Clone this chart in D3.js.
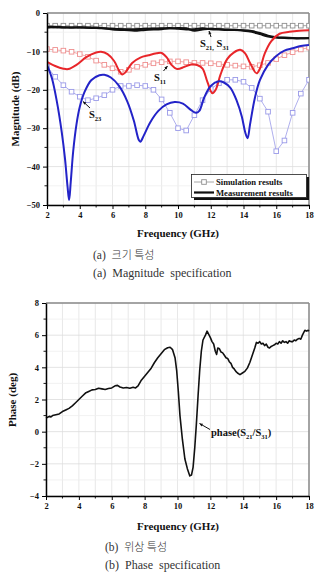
<!DOCTYPE html>
<html><head><meta charset="utf-8">
<script src="https://cdn.jsdelivr.net/npm/d3@7"></script>
<style>
html,body{margin:0;padding:0;background:#fff;}
svg{display:block;}
text{font-family:"Liberation Serif","Times New Roman",serif;}
</style></head>
<body>
<svg id="c" width="315" height="576"></svg>
<script>
// ---------- DATA ----------
const xTicks = [2,4,6,8,10,12,14,16,18];
const magTicks = [-50,-40,-30,-20,-10,0];
const phaseTicks = [-4,-2,0,2,4,6,8];

// Simulation (0.5 GHz steps)
const simFreq = [2,2.5,3,3.5,4,4.5,5,5.5,6,6.5,7,7.5,8,8.5,9,9.5,10,10.5,11,11.5,12,12.5,13,13.5,14,14.5,15,15.5,16,16.5,17,17.5,18];
const simS21 = [-3.3,-3.3,-3.3,-3.3,-3.3,-3.3,-3.3,-3.3,-3.3,-3.3,-3.3,-3.3,-3.3,-3.3,-3.3,-3.3,-3.3,-3.3,-3.3,-3.3,-3.3,-3.3,-3.3,-3.3,-3.3,-3.3,-3.3,-3.3,-3.3,-3.3,-3.3,-3.3,-3.3];
const simS11 = [-9.4,-9.6,-9.8,-10.1,-10.7,-11.4,-12.4,-13.5,-14.4,-15.3,-14.8,-14,-13.5,-13.1,-12.8,-12.6,-12.6,-12.8,-13,-13,-13.1,-13.3,-13.5,-13.7,-13.9,-14,-13.6,-13,-12,-11,-10.2,-9.5,-9];
const simS23 = [-14,-16.6,-18.8,-20.5,-21.8,-22.7,-22.2,-21.4,-20,-19,-19,-18.8,-19,-20,-22.5,-26,-30,-30.6,-26.6,-22.7,-19.8,-18.3,-17.4,-17.4,-17.9,-19.5,-22.3,-25.7,-36,-33.2,-26,-21,-17.4];

// Measurement
const meaS21Freq = [2,2.5,3,4,5,6,7,8,9,9.5,10,10.5,11,11.5,12,12.5,13,14,14.5,15,15.5,16,16.5,17,17.5,18];
const meaS21 = [-3.6,-3.6,-3.7,-3.8,-3.9,-4.1,-4.2,-4.1,-4.0,-3.9,-4.1,-4.3,-4.2,-4.0,-4.2,-4.3,-4.4,-4.5,-4.7,-5.2,-5.9,-6.3,-6.5,-6.6,-6.6,-6.5];
const meaS31Freq = [2,2.5,3,4,5,6,7,7.5,8,9,10,10.5,11,11.5,12,13,14,14.5,15,15.5,16,16.5,17,18];
const meaS31 = [-3.8,-3.7,-3.8,-3.7,-3.8,-4.3,-4.5,-4.6,-4.4,-4.2,-3.9,-4.0,-4.6,-4.3,-4.1,-4.3,-4.6,-4.9,-5.5,-6.1,-6.4,-6.4,-6.5,-6.6];
const meaS11Freq = [2,2.5,3,3.3,3.8,4.4,5,5.3,5.7,6.1,6.4,6.6,6.8,7.2,7.7,8.2,8.7,9,9.3,9.6,9.95,10.4,10.8,11.2,11.5,11.8,12.1,12.3,12.6,13,13.4,13.8,14.1,14.4,14.8,15,15.3,15.7,16.2,16.8,17.4,18];
const meaS11 = [-12.7,-13.8,-14.5,-14.6,-13.5,-11.5,-10.3,-10.1,-10.7,-12.5,-15,-16,-15.4,-13,-11.6,-11,-10.5,-10.4,-11.5,-13.5,-14.6,-14,-13.4,-13.6,-14.5,-18,-20.9,-20,-16,-12,-10.3,-9.6,-10.5,-13,-15.7,-14.5,-10.5,-7.3,-5.4,-4.9,-4.6,-4.5];
const meaS23Freq = [2,2.3,2.6,2.9,3.1,3.25,3.35,3.45,3.6,3.8,4,4.3,4.7,5.2,5.5,5.9,6.4,6.9,7.3,7.6,7.7,7.9,8.3,8.8,9.3,9.8,10.3,10.8,11.1,11.3,11.6,12,12.5,12.8,13.2,13.6,13.9,14.1,14.25,14.4,14.7,15,15.5,16,16.5,17,17.5,18];
const meaS23 = [-13.5,-17,-23,-31,-38,-45,-48.7,-44,-36,-29,-24.5,-20.5,-17.5,-16.2,-16.1,-16.8,-19,-23,-28,-33,-33.5,-32,-28.5,-25.5,-23.8,-23.2,-23.6,-25.3,-26,-25.5,-22,-19,-17.8,-18.1,-19.5,-23,-27,-31,-32.6,-29,-22,-17.5,-13.5,-11.2,-9.8,-9.2,-8.6,-8.3];

// Phase measurement
const phaseFreq = [2,2.1,2.2,2.3,2.4,2.6,2.8,3,3.2,3.4,3.6,3.8,4,4.2,4.4,4.6,4.8,5,5.2,5.4,5.6,5.8,6,6.2,6.35,6.5,6.7,6.9,7.1,7.3,7.45,7.6,7.8,8,8.2,8.4,8.6,8.8,9,9.2,9.4,9.55,9.7,9.85,9.95,10.05,10.15,10.3,10.45,10.6,10.75,10.85,10.95,11.05,11.15,11.25,11.35,11.45,11.55,11.7,11.8,11.9,12,12.1,12.2,12.3,12.38,12.45,12.55,12.65,12.75,12.85,12.95,13.05,13.15,13.25,13.35,13.45,13.55,13.65,13.8,13.95,14.1,14.25,14.4,14.55,14.7,14.8,14.9,15,15.1,15.2,15.3,15.4,15.5,15.6,15.7,15.8,15.9,16,16.1,16.2,16.3,16.4,16.5,16.6,16.7,16.8,16.9,17,17.1,17.2,17.3,17.4,17.5,17.6,17.7,17.75,17.85,17.95,18];
const phaseVal = [0.85,0.9,0.95,0.92,1.0,1.05,1.1,1.25,1.35,1.45,1.6,1.8,2.0,2.2,2.4,2.5,2.6,2.62,2.7,2.66,2.62,2.68,2.72,2.85,2.88,2.78,2.72,2.75,2.7,2.76,2.72,2.85,3.2,3.45,3.7,3.95,4.3,4.6,4.85,5.1,5.22,5.25,5.1,4.6,3.8,2.5,1.0,-0.5,-1.7,-2.3,-2.75,-2.7,-2.2,-1.0,0.5,2.2,3.8,5.0,5.7,6.0,6.25,6.05,5.85,5.6,5.45,5.0,4.8,5.2,5.15,4.95,4.9,4.75,4.6,4.55,4.35,4.25,4.0,3.9,3.75,3.65,3.55,3.65,3.75,3.95,4.3,4.75,5.2,5.55,5.5,5.6,5.45,5.5,5.35,5.45,5.25,5.2,5.3,5.35,5.4,5.5,5.45,5.6,5.5,5.65,5.55,5.6,5.5,5.65,5.6,5.6,5.7,5.65,5.75,5.8,5.75,6.0,6.2,6.3,6.25,6.3,6.25];

// ---------- DRAW ----------
const svg = d3.select("#c");
const zip = (xs, ys) => xs.map((f,i)=>[f, ys[i]]);

function panel(g, x, y, yTicksMajor, yMinorStep) {
  const [x0,x1] = x.range(); const [y0,y1] = y.range(); // y0 bottom, y1 top
  const xMinor = d3.range(2, 18.01, 1);
  const yd = y.domain();
  const yMinor = d3.range(yd[0], yd[1]+0.001, yMinorStep);
  // grid
  g.append("g").selectAll("line").data(xMinor).join("line")
    .attr("x1", d=>x(d)).attr("x2", d=>x(d)).attr("y1", y1).attr("y2", y0)
    .attr("stroke", "#e2e2e2").attr("stroke-width", 0.8);
  g.append("g").selectAll("line").data(yMinor).join("line")
    .attr("x1", x0).attr("x2", x1).attr("y1", d=>y(d)).attr("y2", d=>y(d))
    .attr("stroke", d=> yTicksMajor.includes(d) ? "#dcdcdc" : "#efefef").attr("stroke-width", 0.8);
  // frame top/right gray
  g.append("line").attr("x1",x0).attr("x2",x1).attr("y1",y1).attr("y2",y1).attr("stroke","#8a8a8a").attr("stroke-width",1.5);
  g.append("line").attr("x1",x1).attr("x2",x1).attr("y1",y1).attr("y2",y0).attr("stroke","#8a8a8a").attr("stroke-width",1.5);
}

function axes(g, x, y, yTicksMajor, yMinorStep, fmtY) {
  const [x0,x1] = x.range(); const [y0,y1] = y.range();
  const yd = y.domain();
  // x axis
  const xa = d3.axisBottom(x).tickValues(xTicks).tickSize(4).tickSizeOuter(0).tickPadding(3);
  const gx = g.append("g").attr("transform", `translate(0,${y0})`).call(xa);
  gx.select(".domain").attr("stroke","#000").attr("stroke-width",1.5);
  gx.selectAll(".tick line").attr("stroke","#000").attr("stroke-width",1);
  gx.selectAll(".tick text").attr("font-family","Liberation Serif, serif").attr("font-weight","bold").attr("font-size",8.5).attr("fill","#111");
  g.append("g").selectAll("line").data(d3.range(3,18,2)).join("line")
    .attr("x1", d=>x(d)).attr("x2", d=>x(d)).attr("y1", y0).attr("y2", y0+2.5).attr("stroke","#000").attr("stroke-width",0.9);
  // y axis
  const ya = d3.axisLeft(y).tickValues(yTicksMajor).tickSize(4).tickSizeOuter(0).tickPadding(3).tickFormat(fmtY);
  const gy = g.append("g").attr("transform", `translate(${x0},0)`).call(ya);
  gy.select(".domain").attr("stroke","#000").attr("stroke-width",1.5);
  gy.selectAll(".tick line").attr("stroke","#000").attr("stroke-width",1);
  gy.selectAll(".tick text").attr("font-family","Liberation Serif, serif").attr("font-weight","bold").attr("font-size",8.5).attr("fill","#111");
  const yMin = d3.range(yd[0], yd[1]+0.001, yMinorStep).filter(v=>!yTicksMajor.includes(v));
  g.append("g").selectAll("line").data(yMin).join("line")
    .attr("x1", x0-2.5).attr("x2", x0).attr("y1", d=>y(d)).attr("y2", d=>y(d)).attr("stroke","#000").attr("stroke-width",0.9);
}

// ===== TOP: magnitude =====
const xA = d3.scaleLinear().domain([2,18]).range([47,309]);
const yA = d3.scaleLinear().domain([-50,0]).range([205,13]);
const gA = svg.append("g");
panel(gA, xA, yA, magTicks, 5);

const clipA = svg.append("clipPath").attr("id","clipA").append("rect")
  .attr("x",47).attr("y",12).attr("width",262).attr("height",194);
const plotA = gA.append("g").attr("clip-path","url(#clipA)");

const smooth = d3.line().x(d=>xA(d[0])).y(d=>yA(d[1])).curve(d3.curveCatmullRom.alpha(0.5));
const straightA = d3.line().x(d=>xA(d[0])).y(d=>yA(d[1]));

function simSeries(vals, color) {
  const pts = zip(simFreq, vals);
  plotA.append("path").attr("d", straightA(pts)).attr("fill","none").attr("stroke",color).attr("stroke-width",0.8);
  plotA.append("g").selectAll("rect").data(pts).join("rect")
    .attr("x", d=>xA(d[0])-2.3).attr("y", d=>yA(d[1])-2.3).attr("width",4.6).attr("height",4.6)
    .attr("fill","#fff").attr("stroke",color).attr("stroke-width",0.9);
}
simSeries(simS21, "#8f8f8f");
simSeries(simS11, "#ef8f8f");
simSeries(simS23, "#9a9ae8");

function meaSeries(fs, vals, color) {
  plotA.append("path").attr("d", smooth(zip(fs, vals))).attr("fill","none").attr("stroke",color).attr("stroke-width",2).attr("stroke-linejoin","round");
}
meaSeries(meaS21Freq, meaS21, "#111");
meaSeries(meaS31Freq, meaS31, "#111");
meaSeries(meaS11Freq, meaS11, "#e8262a");
meaSeries(meaS23Freq, meaS23, "#2323c8");

axes(gA, xA, yA, magTicks, 5, d3.format("d"));

// annotations top
function arrow(g, x1,y1,x2,y2) {
  g.append("line").attr("x1",x1).attr("y1",y1).attr("x2",x2).attr("y2",y2).attr("stroke","#111").attr("stroke-width",1);
  const a = Math.atan2(y2-y1, x2-x1), L=3.5, w=0.45;
  const p = [[x2,y2],[x2-L*Math.cos(a-w), y2-L*Math.sin(a-w)],[x2-L*Math.cos(a+w), y2-L*Math.sin(a+w)]];
  g.append("path").attr("d", d3.line()(p)+"Z").attr("fill","#111");
}
function sLabel(g, x, y, parts) {
  const t = g.append("text").attr("x",x).attr("y",y).attr("font-weight","bold").attr("font-size",10.5).attr("fill","#111");
  parts.forEach(p => {
    if (p.sub) t.append("tspan").attr("font-size",6.5).attr("dy",2.5).text(p.t);
    else t.append("tspan").attr("font-size",10.5).attr("dy", p.up ? -2.5 : 0).text(p.t);
  });
  return t;
}
sLabel(gA, 200, 47, [{t:"S"},{t:"21,",sub:true},{t:" S",up:true},{t:"31",sub:true}]);
arrow(gA, 211, 37, 209, 31);
sLabel(gA, 154, 81, [{t:"S"},{t:"11",sub:true}]);
arrow(gA, 163.5, 71, 167.5, 66);
sLabel(gA, 89, 118, [{t:"S"},{t:"23",sub:true}]);
arrow(gA, 90, 108, 83, 101.5);

// legend
const lg = gA.append("g");
lg.append("rect").attr("x",194).attr("y",177).attr("width",115).attr("height",23).attr("fill","#111");
lg.append("rect").attr("x",191.5).attr("y",174.5).attr("width",115).attr("height",23).attr("fill","#fff").attr("stroke","#222").attr("stroke-width",0.8);
lg.append("line").attr("x1",194).attr("x2",214).attr("y1",182).attr("y2",182).attr("stroke","#8f8f8f").attr("stroke-width",0.8);
lg.append("rect").attr("x",201.7).attr("y",179.7).attr("width",4.6).attr("height",4.6).attr("fill","#fff").attr("stroke","#8f8f8f").attr("stroke-width",0.9);
lg.append("line").attr("x1",194).attr("x2",214).attr("y1",192.5).attr("y2",192.5).attr("stroke","#111").attr("stroke-width",2.2);
lg.append("text").attr("x",216).attr("y",185).attr("font-weight","bold").attr("font-size",8.6).attr("fill","#111").text("Simulation results");
lg.append("text").attr("x",216).attr("y",195.5).attr("font-weight","bold").attr("font-size",8.6).attr("fill","#111").text("Measurement results");

// titles
svg.append("text").attr("x",178).attr("y",237).attr("text-anchor","middle").attr("font-weight","bold").attr("font-size",11).attr("fill","#111").text("Frequency (GHz)");
svg.append("text").attr("transform","translate(19,109) rotate(-90)").attr("text-anchor","middle").attr("font-weight","bold").attr("font-size",11).attr("fill","#111").text("Magnitude (dB)");
svg.append("text").attr("x",93).attr("y",259).attr("font-size",11.5).attr("fill","#333").attr("style","white-space:pre").text("(a)  ")
  .append("tspan").attr("font-family","Noto Sans CJK KR").attr("font-weight",300).attr("font-size",11).text("크기 특성");
svg.append("text").attr("x",93).attr("y",277).attr("font-size",12).attr("fill","#333").attr("style","white-space:pre").text("(a)  Magnitude  specification");

// ===== BOTTOM: phase =====
const xB = d3.scaleLinear().domain([2,18]).range([46,309]);
const yB = d3.scaleLinear().domain([-4,8]).range([496,303]);
const gB = svg.append("g");
panel(gB, xB, yB, phaseTicks, 1);
const lineB = d3.line().x(d=>xB(d[0])).y(d=>yB(d[1]));
gB.append("path").attr("d", lineB(zip(phaseFreq, phaseVal))).attr("fill","none").attr("stroke","#111").attr("stroke-width",1.6).attr("stroke-linejoin","round");
axes(gB, xB, yB, phaseTicks, 1, d3.format("d"));

arrow(gB, 210, 429.5, 199.5, 423.5);
const pt = gB.append("text").attr("x",211).attr("y",436).attr("font-weight","bold").attr("font-size",10.5).attr("fill","#111");
pt.append("tspan").text("phase(S");
pt.append("tspan").attr("font-size",6.5).attr("dy",2.5).text("21");
pt.append("tspan").attr("dy",-2.5).text("/S");
pt.append("tspan").attr("font-size",6.5).attr("dy",2.5).text("31");
pt.append("tspan").attr("dy",-2.5).text(")");

svg.append("text").attr("x",178).attr("y",530).attr("text-anchor","middle").attr("font-weight","bold").attr("font-size",11).attr("fill","#111").text("Frequency (GHz)");
svg.append("text").attr("transform","translate(16,400) rotate(-90)").attr("text-anchor","middle").attr("font-weight","bold").attr("font-size",11).attr("fill","#111").text("Phase (deg)");
svg.append("text").attr("x",105).attr("y",551).attr("font-size",11.5).attr("fill","#333").attr("style","white-space:pre").text("(b)  ")
  .append("tspan").attr("font-family","Noto Sans CJK KR").attr("font-weight",300).attr("font-size",11).text("위상 특성");
svg.append("text").attr("x",105).attr("y",569).attr("font-size",12).attr("fill","#333").attr("style","white-space:pre").text("(b)  Phase  specification");
</script>
</body></html>
